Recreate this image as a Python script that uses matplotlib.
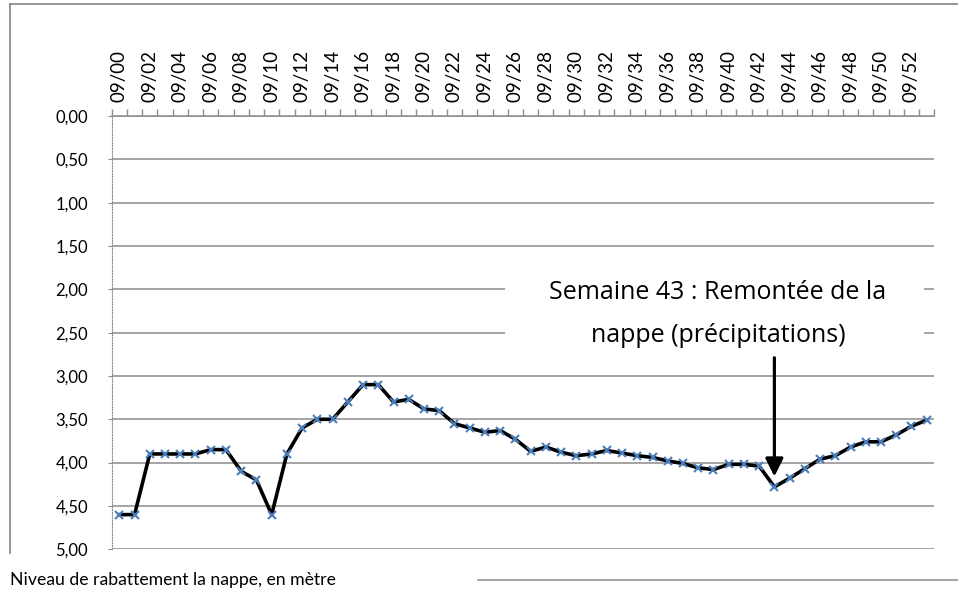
import matplotlib.pyplot as plt
from matplotlib.lines import Line2D
from matplotlib.patches import Rectangle

plt.rcParams['font.family'] = ['Lato', 'DejaVu Sans']

# weekly water table drawdown (m), weeks 00..53
weeks = list(range(54))
levels = [4.60, 4.60, 3.90, 3.90, 3.90, 3.90, 3.85, 3.85, 4.10, 4.20,
          4.60, 3.90, 3.60, 3.50, 3.50, 3.30, 3.10, 3.10, 3.30, 3.27,
          3.38, 3.40, 3.55, 3.60, 3.65, 3.63, 3.73, 3.87, 3.82, 3.88,
          3.92, 3.90, 3.86, 3.89, 3.92, 3.94, 3.98, 4.01, 4.06, 4.08,
          4.02, 4.02, 4.04, 4.28, 4.18, 4.07, 3.96, 3.92, 3.82, 3.76,
          3.76, 3.68, 3.58, 3.51]
week_labels = [f"09/{w:02d}" for w in weeks]
y_ticks = [0.0, 0.5, 1.0, 1.5, 2.0, 2.5, 3.0, 3.5, 4.0, 4.5, 5.0]

legend_text = "Niveau de rabattement la nappe, en mètre"
note_lines = ["Semaine 43 : Remontée de la", "nappe (précipitations)"]
note_week = 43

grey = '#8c8c8c'

fig = plt.figure(figsize=(9.58, 5.91), dpi=100)
ax = fig.add_axes([0.1166, 0.0706, 0.8587, 0.7331])

ax.plot(weeks, levels, color='black', lw=2.6, zorder=3)
ax.plot(weeks, levels, ls='none', marker='x', color='#4a7ebb',
        markersize=6, mew=1.5, zorder=4)

ax.set_xlim(-0.5, 53.5)
ax.set_ylim(5, 0)

# category axis on top, tick marks between categories
ax.xaxis.tick_top()
ax.set_xticks([w - 0.5 for w in weeks] + [53.5], minor=True)
ax.set_xticks(weeks[::2])
ax.set_xticklabels(week_labels[::2], rotation=90, fontsize=13.5)
ax.tick_params(axis='x', which='major', length=0, pad=10)
ax.tick_params(axis='x', which='minor', length=5, color=grey, width=1, top=True)

ax.set_yticks(y_ticks)
ax.set_yticklabels([f"{v:.2f}".replace('.', ',') for v in y_ticks], fontsize=12)
ax.tick_params(axis='y', length=3, color=grey, pad=14)

ax.grid(axis='y', color=grey, lw=1.1)
ax.set_axisbelow(True)
for s in ['right', 'bottom']:
    ax.spines[s].set_visible(False)
ax.spines['top'].set_color(grey)
ax.spines['top'].set_linewidth(1.1)
ax.spines['left'].set_color(grey)
ax.spines['left'].set_linestyle((0, (1, 1.5)))

# annotation box
ax.add_patch(Rectangle((25.3, 1.68), 27.5, 1.05, facecolor='white',
                       edgecolor='none', zorder=1))
for i, line in enumerate(note_lines):
    ax.text(39.3, 2.0 + 0.5 * i, line, ha='center', va='center_baseline',
            fontsize=18, family=['Open Sans', 'DejaVu Sans'], zorder=2)
ax.annotate('', xy=(weeks[note_week], 4.16), xytext=(weeks[note_week], 2.79),
            arrowprops=dict(arrowstyle='-|>', color='black', lw=2.3,
                            mutation_scale=27, shrinkA=0, shrinkB=0), zorder=5)

# legend and chart frame
fig.text(10 / 958, 1 - 580 / 591, legend_text, fontsize=12.7, va='center')
fig.add_artist(Line2D([478 / 958, 1], [1 - 580 / 591] * 2, color=grey, lw=1.1))
fig.add_artist(Line2D([10 / 958, 1], [1 - 4 / 591] * 2, color=grey, lw=1.3))
fig.add_artist(Line2D([10 / 958, 10 / 958], [1 - 4 / 591, 1 - 553 / 591],
                      color=grey, lw=1.3))

plt.savefig('out.png', dpi=100)
